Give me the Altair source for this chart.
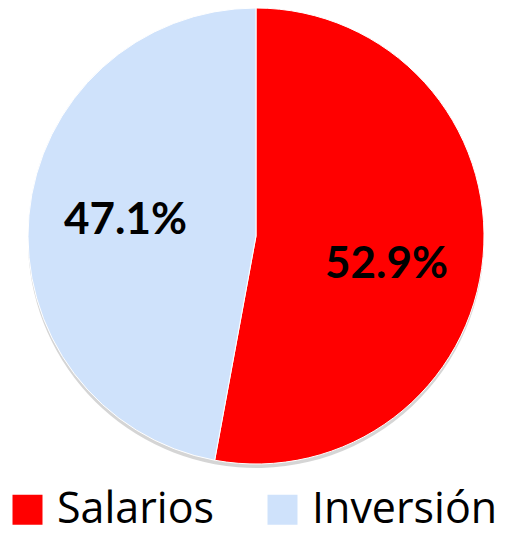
import altair as alt
import pandas as pd

categories = ["Salarios", "Inversión"]
shares = [52.9, 47.1]
labels = ["52.9%", "47.1%"]
colors = ["#FF0000", "#CFE2FB"]
order = [0, 1]

df = pd.DataFrame({"cat": categories, "share": shares, "label": labels, "ord": order})

CX, CY, R = 248, 228, 228
FONT = "Lato"
LEGEND_FONT = "Open Sans"

theta_scale = alt.Scale(domain=[0, 100], range=[0, 6.283185307179586])

base = alt.Chart(df).transform_window(
    cum="sum(share)", sort=[alt.SortField("ord")]
).transform_calculate(
    start="datum.cum - datum.share", mid="datum.cum - datum.share / 2"
)

shadow = base.mark_arc(radius=R, color="#888888", opacity=0.35).encode(
    theta=alt.Theta("start:Q", scale=theta_scale),
    theta2="cum:Q",
    x=alt.value(CX),
    y=alt.value(CY + 4),
)

pie = base.mark_arc(radius=R, stroke="white", strokeWidth=1).encode(
    theta=alt.Theta("start:Q", scale=theta_scale),
    theta2="cum:Q",
    x=alt.value(CX),
    y=alt.value(CY),
    color=alt.Color(
        "cat:N",
        scale=alt.Scale(domain=categories, range=colors),
        sort=categories,
        legend=alt.Legend(
            title=None,
            orient="none",
            legendX=-2,
            legendY=480,
            direction="horizontal",
            symbolType="square",
            symbolSize=900,
            symbolStrokeWidth=0,
            labelFontSize=43,
            labelFont=LEGEND_FONT,
            labelColor="black",
            labelOffset=8,
            columnPadding=46,
            padding=0,
            labelLimit=300,
        ),
    ),
)


def label_layer(cat, dy):
    return base.transform_filter(alt.datum.cat == cat).mark_text(
        radius=131, dy=dy, font=FONT, fontSize=44, fontWeight="bold", color="black"
    ).encode(
        theta=alt.Theta("mid:Q", scale=theta_scale),
        x=alt.value(CX),
        y=alt.value(CY),
        text="label:N",
    )


chart = (
    alt.layer(shadow, pie, label_layer("Salarios", 17), label_layer("Inversión", -3))
    .properties(width=497, height=527, padding=0, autosize="none")
    .configure_view(stroke=None)
)

chart.save("out.html", embed_options={"renderer": "svg", "actions": False})
